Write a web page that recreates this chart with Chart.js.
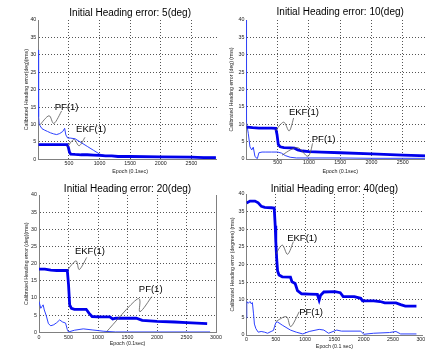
<!DOCTYPE html>
<html><head><meta charset="utf-8">
<script src="https://cdn.jsdelivr.net/npm/chart.js@4/dist/chart.umd.min.js"></script>
<style>
html,body{margin:0;padding:0;background:#fff;width:425px;height:350px;overflow:hidden;position:relative;}
.cell{position:absolute;overflow:hidden;}
canvas{display:block;}
</style></head><body>
<div class="cell" style="left:0;top:0;width:217px;height:175px"><canvas id="ch5" width="222" height="175"></canvas></div>
<div class="cell" style="left:212px;top:0;width:213px;height:175px"><canvas id="ch10" width="222" height="175"></canvas></div>
<div class="cell" style="left:0;top:175px;width:225px;height:175px"><canvas id="ch20" width="225" height="175"></canvas></div>
<div class="cell" style="left:212px;top:175px;width:213px;height:175px"><canvas id="ch40" width="218" height="175"></canvas></div>
<script>
// ---- tick values ----
const yTicks = [0, 5, 10, 15, 20, 25, 30, 35, 40];
const xTicksAll = [0, 500, 1000, 1500, 2000, 2500, 3000];
const xTicksTop = [500, 1000, 1500, 2000, 2500];

// ---- Initial heading error 5 deg ----
const ekf5X = [0, 100, 200, 300, 400, 470, 490, 510, 530, 600, 700, 800, 900, 1000, 1100, 1200, 1300, 1500, 2000, 2500, 2700, 2900];
const ekf5Y = [4.2, 4.2, 4.2, 4.2, 4.2, 4.2, 3.5, 2.0, 1.5, 1.4, 1.3, 1.3, 1.2, 1.1, 1.0, 1.0, 0.8, 0.8, 0.7, 0.6, 0.5, 0.5];
const pf5X = [0, 5, 15, 30, 60, 100, 150, 200, 250, 300, 350, 400, 430, 450, 480, 520, 600, 700, 800, 900, 1000, 1100, 1200, 1500, 2000, 2500, 2900];
const pf5Y = [31.4, 12.2, 10.0, 9.6, 8.8, 8.4, 8.0, 7.6, 7.3, 7.1, 7.4, 8.0, 8.9, 7.0, 6.1, 6.1, 5.9, 4.8, 3.7, 2.6, 1.5, 1.0, 0.9, 0.8, 0.7, 0.6, 0.6];

// ---- Initial heading error 10 deg ----
const ekf10X = [0, 100, 200, 300, 400, 470, 490, 510, 540, 600, 700, 770, 820, 900, 1000, 1200, 1500, 2000, 2500, 2900];
const ekf10Y = [9.2, 9.0, 8.9, 8.9, 8.9, 8.8, 7.0, 4.2, 3.5, 3.3, 3.2, 3.1, 2.6, 2.3, 2.1, 2.0, 1.8, 1.5, 1.1, 0.9];
const pf10X = [0, 2, 30, 57, 85, 110, 137, 175, 200, 250, 300, 400, 500, 560, 620, 700, 800, 1000, 1500, 2000, 2500, 2900];
const pf10Y = [40, 10.5, 7.4, 3.5, 2.6, 3.4, 0.7, 0.1, 1.8, 2.0, 2.0, 2.0, 2.0, 1.7, 1.0, 0.5, 0.3, 0.3, 0.3, 0.2, 0.2, 0.2];

// ---- Initial heading error 20 deg ----
const ekf20X = [0, 100, 200, 300, 480, 500, 520, 550, 600, 800, 850, 900, 1000, 1200, 1250, 1300, 1650, 1750, 2000, 2300, 2500, 2850];
const ekf20Y = [18.4, 18.4, 18.1, 18.0, 18.0, 14.0, 8.0, 7.0, 6.7, 6.7, 5.5, 4.6, 4.5, 4.5, 3.9, 4.1, 4.1, 3.5, 3.2, 3.0, 2.8, 2.5];
const pf20X = [0, 30, 50, 70, 90, 120, 160, 200, 250, 300, 350, 400, 450, 480, 500, 600, 750, 900, 1000, 1100, 1300, 2000, 2900];
const pf20Y = [9.0, 7.0, 7.5, 8.0, 6.5, 5.0, 2.5, 1.9, 2.2, 2.8, 3.6, 3.0, 2.7, 0.8, 0.1, 0.6, 1.0, 0.7, 0.5, 0.3, 0.1, 0.1, 0.1];

// ---- Initial heading error 40 deg ----
const ekf40X = [0, 60, 145, 200, 254, 310, 420, 473, 490, 500, 515, 530, 555, 610, 750, 775, 830, 870, 940, 1070, 1210, 1240, 1265, 1320, 1510, 1600, 1650, 1840, 1950, 1980, 2170, 2280, 2360, 2550, 2630, 2710, 2900];
const ekf40Y = [37.4, 38.0, 38.0, 37.5, 36.5, 36.2, 36.1, 36.0, 31.0, 26.5, 21.7, 18.2, 17.0, 16.5, 16.4, 15.1, 14.6, 12.6, 11.7, 11.6, 11.5, 9.9, 11.3, 12.2, 12.3, 12.0, 10.9, 10.9, 10.4, 9.7, 9.7, 9.5, 9.1, 9.1, 8.6, 8.2, 8.2];
const pf40X = [0, 5, 30, 60, 85, 100, 120, 135, 160, 200, 250, 310, 360, 420, 460, 480, 500, 530, 610, 750, 850, 960, 1070, 1240, 1320, 1400, 1540, 1620, 1950, 2000, 2170, 2440, 2550, 2630, 2900];
const pf40Y = [4.8, 9.5, 9.0, 9.5, 8.8, 9.2, 6.0, 3.1, 1.8, 0.8, 1.0, 0.8, 0.5, 1.0, 1.3, 2.5, 3.5, 3.7, 2.8, 1.4, 0.8, 0.3, 1.0, 1.6, 1.4, 0.5, 1.4, 1.1, 1.1, 0.2, 0.5, 0.7, 1.0, 0.3, 0.3];

const FAMILY = '"Liberation Sans", Arial, Helvetica, sans-serif';
const pts = (xs, ys) => xs.map((x, i) => ({x: x, y: ys[i]}));

function notesPlugin(items) {
  return {
    id: 'notes',
    afterDatasetsDraw(chart) {
      const ctx = chart.ctx, xs = chart.scales.x, ys = chart.scales.y;
      ctx.save();
      items.forEach(n => {
        const p = n.path.map(q => [xs.getPixelForValue(q[0]), ys.getPixelForValue(q[1])]);
        ctx.beginPath();
        ctx.strokeStyle = '#555';
        ctx.lineWidth = 0.8;
        ctx.moveTo(p[0][0], p[0][1]);
        for (let i = 0; i < p.length - 1; i++) {
          const p0 = p[Math.max(i - 1, 0)], p1 = p[i], p2 = p[i + 1], p3 = p[Math.min(i + 2, p.length - 1)];
          ctx.bezierCurveTo(p1[0] + (p2[0] - p0[0]) / 6, p1[1] + (p2[1] - p0[1]) / 6,
                            p2[0] - (p3[0] - p1[0]) / 6, p2[1] - (p3[1] - p1[1]) / 6, p2[0], p2[1]);
        }
        ctx.stroke();
        ctx.font = '9.5px ' + FAMILY;
        ctx.fillStyle = '#000';
        ctx.textAlign = 'center';
        ctx.textBaseline = 'middle';
        ctx.fillText(n.text, xs.getPixelForValue(n.at[0]), ys.getPixelForValue(n.at[1]));
      });
      ctx.restore();
    }
  };
}

function makeChart(id, s) {
  const tickFont = {family: FAMILY, size: 5.3, lineHeight: 1.2};
  const scales = {
    x: {
      type: 'linear', min: 0, max: 3000,
      afterBuildTicks: sc => { sc.ticks = s.xTicks.map(v => ({value: v})); },
      afterFit: sc => { sc.height = s.xH; },
      ticks: {font: tickFont, color: '#222', padding: s.xPad, maxRotation: 0, autoSkip: false,
        callback: v => String(v)},
      grid: {drawTicks: false, lineWidth: 1,
        color: c => (c.tick && (c.tick.value === 0 || c.tick.value === 3000)) ? 'rgba(0,0,0,0)' : '#555'},
      border: {display: true, color: '#808080', width: 1, dash: [1, 2]},
      title: {display: true, text: s.xLabel, color: '#222', font: tickFont, padding: {top: 0, bottom: s.xtPad}}
    },
    y: {
      type: 'linear', min: 0, max: 40,
      afterBuildTicks: sc => { sc.ticks = yTicks.map(v => ({value: v})); },
      afterFit: sc => { sc.width = s.yW; },
      ticks: {font: tickFont, color: '#222', padding: 2, callback: v => String(v)},
      grid: {drawTicks: false, lineWidth: 1,
        color: c => (c.tick && c.tick.value === 40) ? 'rgba(0,0,0,0)' : '#555'},
      border: {display: true, color: '#808080', width: 1, dash: [1, 2]},
      title: {display: true, text: s.yLabel, color: '#222', font: {family: FAMILY, size: 5.2, lineHeight: 1.2}, padding: {top: s.ytPad, bottom: 0}}
    }
  };
  if (s.rightBorder) {
    scales.y2 = {
      type: 'linear', position: 'right', min: 0, max: 40,
      afterFit: sc => { sc.width = 0; },
      ticks: {display: false},
      grid: {drawOnChartArea: false, drawTicks: false},
      border: {display: true, color: '#808080', width: 1}
    };
  }
  new Chart(document.getElementById(id), {
    type: 'line',
    data: {datasets: [
      {data: pts(s.ekfX, s.ekfY), borderColor: 'rgb(0,0,235)', borderWidth: 2.8, pointRadius: 0, fill: false, tension: 0},
      {data: pts(s.pfX, s.pfY), borderColor: 'rgb(45,65,255)', borderWidth: 1, pointRadius: 0, fill: false, tension: 0}
    ]},
    options: {
      responsive: false, animation: false, devicePixelRatio: 1, events: [],
      layout: {padding: {left: 0, right: s.padR, top: 0, bottom: 0}},
      plugins: {
        legend: {display: false}, tooltip: {enabled: false},
        title: {display: true, text: s.title, fullSize: false, color: '#000',
          font: {family: FAMILY, size: 10, weight: 'normal', lineHeight: 1},
          padding: {top: s.tPad[0], bottom: s.tPad[1]}}
      },
      scales: scales
    },
    plugins: [notesPlugin(s.notes)]
  });
}

makeChart('ch5', {
  title: 'Initial Heading error: 5(deg)', xLabel: 'Epoch (0.1sec)', yLabel: 'Calibrated Heading error(deg)(rms)',
  ekfX: ekf5X, ekfY: ekf5Y, pfX: pf5X, pfY: pf5Y, xTicks: xTicksTop,
  yW: 38.3, xH: 15.7, padR: 0, tPad: [8, 2], xPad: 1.5, xtPad: 0, ytPad: 23,
  notes: [
    {text: 'PF(1)', at: [463, 14.9], path: [[28, 9.9], [174, 12.5], [256, 10.3], [381, 13.9]]},
    {text: 'EKF(1)', at: [863, 8.6], path: [[479, 3.6], [582, 5.7], [668, 3.9], [761, 6.3]]}
  ]
});
makeChart('ch10', {
  title: 'Initial Heading error: 10(deg)', xLabel: 'Epoch (0.1sec)', yLabel: 'Calibrated Heading error (deg) (rms)',
  ekfX: ekf10X, ekfY: ekf10Y, pfX: pf10X, pfY: pf10Y, xTicks: xTicksTop,
  yW: 34.4, xH: 16, padR: 0, tPad: [7.7, 2.3], xPad: 0.8, xtPad: 0, ytPad: 16.3,
  notes: [
    {text: 'EKF(1)', at: [920, 13.5], path: [[462, 8.1], [596, 10.6], [685, 8.1], [755, 11.8]]},
    {text: 'PF(1)', at: [1235, 5.7], path: [[569, 1.1], [808, 3.3], [984, 0.8], [1059, 4.5]]}
  ]
});
makeChart('ch20', {
  title: 'Initial Heading error: 20(deg)', xLabel: 'Epoch (0.1sec)', yLabel: 'Calibrated Heading error (deg)(rms)',
  ekfX: ekf20X, ekfY: ekf20Y, pfX: pf20X, pfY: pf20Y, xTicks: xTicksAll,
  yW: 39, xH: 17.7, padR: 9, tPad: [9, 1], xPad: 2.2, xtPad: 2.8, ytPad: 23, rightBorder: true,
  notes: [
    {text: 'EKF(1)', at: [864, 23.7], path: [[486, 18.2], [627, 20.8], [684, 18.3], [808, 21.8]]},
    {text: 'PF(1)', at: [1893, 12.5], path: [[1147, 0.2], [1666, 9.7], [1712, 6.0], [1910, 10.4]]}
  ]
});
makeChart('ch40', {
  title: 'Initial Heading error: 40(deg)', xLabel: 'Epoch (0.1 sec)', yLabel: 'Calibrated Heading error (degrees) (rms)',
  ekfX: ekf40X, ekfY: ekf40Y, pfX: pf40X, pfY: pf40Y, xTicks: xTicksAll,
  yW: 34.5, xH: 15, padR: 0.5, tPad: [9, 0], xPad: 1.8, xtPad: 0, ytPad: 17.7,
  notes: [
    {text: 'EKF(1)', at: [951, 27.4], path: [[500, 22.9], [610, 25.5], [702, 22.9], [800, 26.5]]},
    {text: 'PF(1)', at: [1102, 6.4], path: [[500, 3.8], [681, 5.2], [758, 2.4], [899, 6.6]]}
  ]
});
</script>
</body></html>
